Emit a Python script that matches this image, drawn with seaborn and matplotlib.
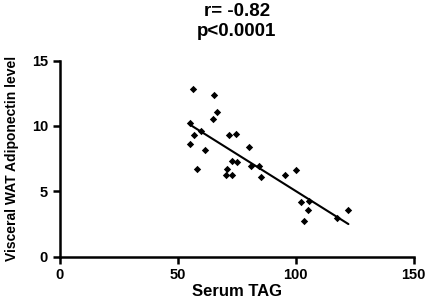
import numpy as np
import pandas as pd
import matplotlib
matplotlib.use("Agg")
import matplotlib.pyplot as plt
import seaborn as sns

serum_tag = [55.2, 56.6, 57.0, 55.2, 58.2, 60.0, 61.7, 64.7, 65.2, 66.5,
             71.8, 74.8, 70.8, 70.2, 72.8, 72.8, 75.2, 80.0, 80.9, 84.4,
             85.4, 95.3, 100.1, 102.3, 105.7, 105.0, 103.4, 117.4, 122.3]
adiponectin = [10.2, 12.8, 9.34, 8.62, 6.73, 9.62, 8.14, 10.5, 12.4, 11.1,
               9.34, 9.41, 6.73, 6.22, 6.22, 7.35, 7.22, 8.42, 6.94, 6.94,
               6.12, 6.22, 6.63, 4.21, 4.26, 3.55, 2.73, 2.93, 3.55]
x_ticks = [0, 50, 100, 150]
y_ticks = [0, 5, 10, 15]

df = pd.DataFrame({"Serum TAG": serum_tag, "Adiponectin": adiponectin})

sns.set_style("ticks", {"axes.edgecolor": "black", "text.color": "black",
                        "xtick.color": "black", "ytick.color": "black",
                        "axes.labelcolor": "black"})
plt.rcParams['font.family'] = ['Liberation Sans', 'DejaVu Sans']

fig = plt.figure(figsize=(4.31, 3.03), dpi=100)
ax = fig.add_axes([0.139, 0.153, 0.821, 0.647])

sns.scatterplot(data=df, x="Serum TAG", y="Adiponectin", marker="D", s=14,
                color="black", edgecolor="black", linewidth=0, ax=ax)
sns.regplot(data=df, x="Serum TAG", y="Adiponectin", scatter=False, ci=None,
            color="black", line_kws={"linewidth": 1.5}, ax=ax)

ax.set_xlim(0, 150)
ax.set_ylim(0, 15)
ax.set_xticks(x_ticks)
ax.set_yticks(y_ticks)
ax.tick_params(axis="both", direction="out", width=1.8, length=5, labelsize=10.5,
               colors="black")
for lbl in ax.get_xticklabels() + ax.get_yticklabels():
    lbl.set_fontweight("bold")
for s in ["left", "bottom"]:
    ax.spines[s].set_linewidth(1.8)
    ax.spines[s].set_color("black")
sns.despine(ax=ax)

ax.set_xlabel("Serum TAG", fontsize=12, fontweight="bold", labelpad=1, color="black")
ax.set_ylabel("Visceral WAT Adiponectin level", fontsize=10, fontweight="bold",
              labelpad=9, color="black")
ax.set_title("r= -0.82\np<0.0001", fontsize=13.5, fontweight="bold", pad=18,
             linespacing=1.2, color="black")

fig.savefig("out.png", dpi=100)
